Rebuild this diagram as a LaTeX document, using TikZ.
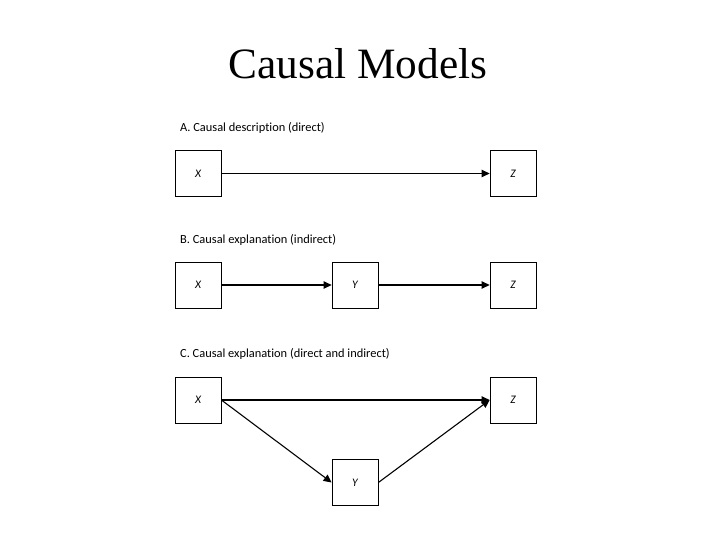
\documentclass[tikz,border=0pt]{standalone}
\usepackage{fontspec}
\setmainfont[Ligatures=NoCommon]{Carlito}
\newfontfamily\titlefont{Liberation Serif}
\usetikzlibrary{arrows.meta}
\begin{document}
\begin{tikzpicture}[x=1pt,y=-1pt,
  var/.style={draw,line width=0.8pt,minimum width=46pt,minimum height=46pt,inner sep=0pt,font=\fontsize{11.5}{13}\selectfont\itshape},
  lbl/.style={anchor=base west,inner sep=0pt,font=\fontsize{12.4}{14}\selectfont},
  conn/.style={line width=1.1pt,-{Triangle[length=8pt,width=7.5pt]}}]
\useasboundingbox (0,0) rectangle (720,540);
\node[anchor=base,inner sep=0pt,font=\titlefont\fontsize{43.3}{50}\selectfont] (title) at (358,79) {Causal Models};
% A
\node[lbl] (la) at (180,131.5) {A. Causal description (direct)};
\node[var] (ax) at (198,173.5) {X};
\node[var] (az) at (513,173.5) {Z};
\draw[conn] (ax) -- (az);
% B
\node[lbl] (lb) at (180,243.5) {B. Causal explanation (indirect)};
\node[var] (bx) at (198,285) {X};
\node[var] (by) at (355,285) {Y};
\node[var] (bz) at (513,285) {Z};
\draw[conn] (bx) -- (by);
\draw[conn] (by) -- (bz);
% C
\node[lbl] (lc) at (180,357.5) {C. Causal explanation (direct and indirect)};
\node[var] (cx) at (198,400) {X};
\node[var] (cy) at (355,482.5) {Y};
\node[var] (cz) at (513,400) {Z};
\draw[conn] (cx.east) -- (cz.west);
\draw[conn] (cx.east) -- (cy.west);
\draw[conn] (cy.east) -- (cz.west);
\end{tikzpicture}
\end{document}
